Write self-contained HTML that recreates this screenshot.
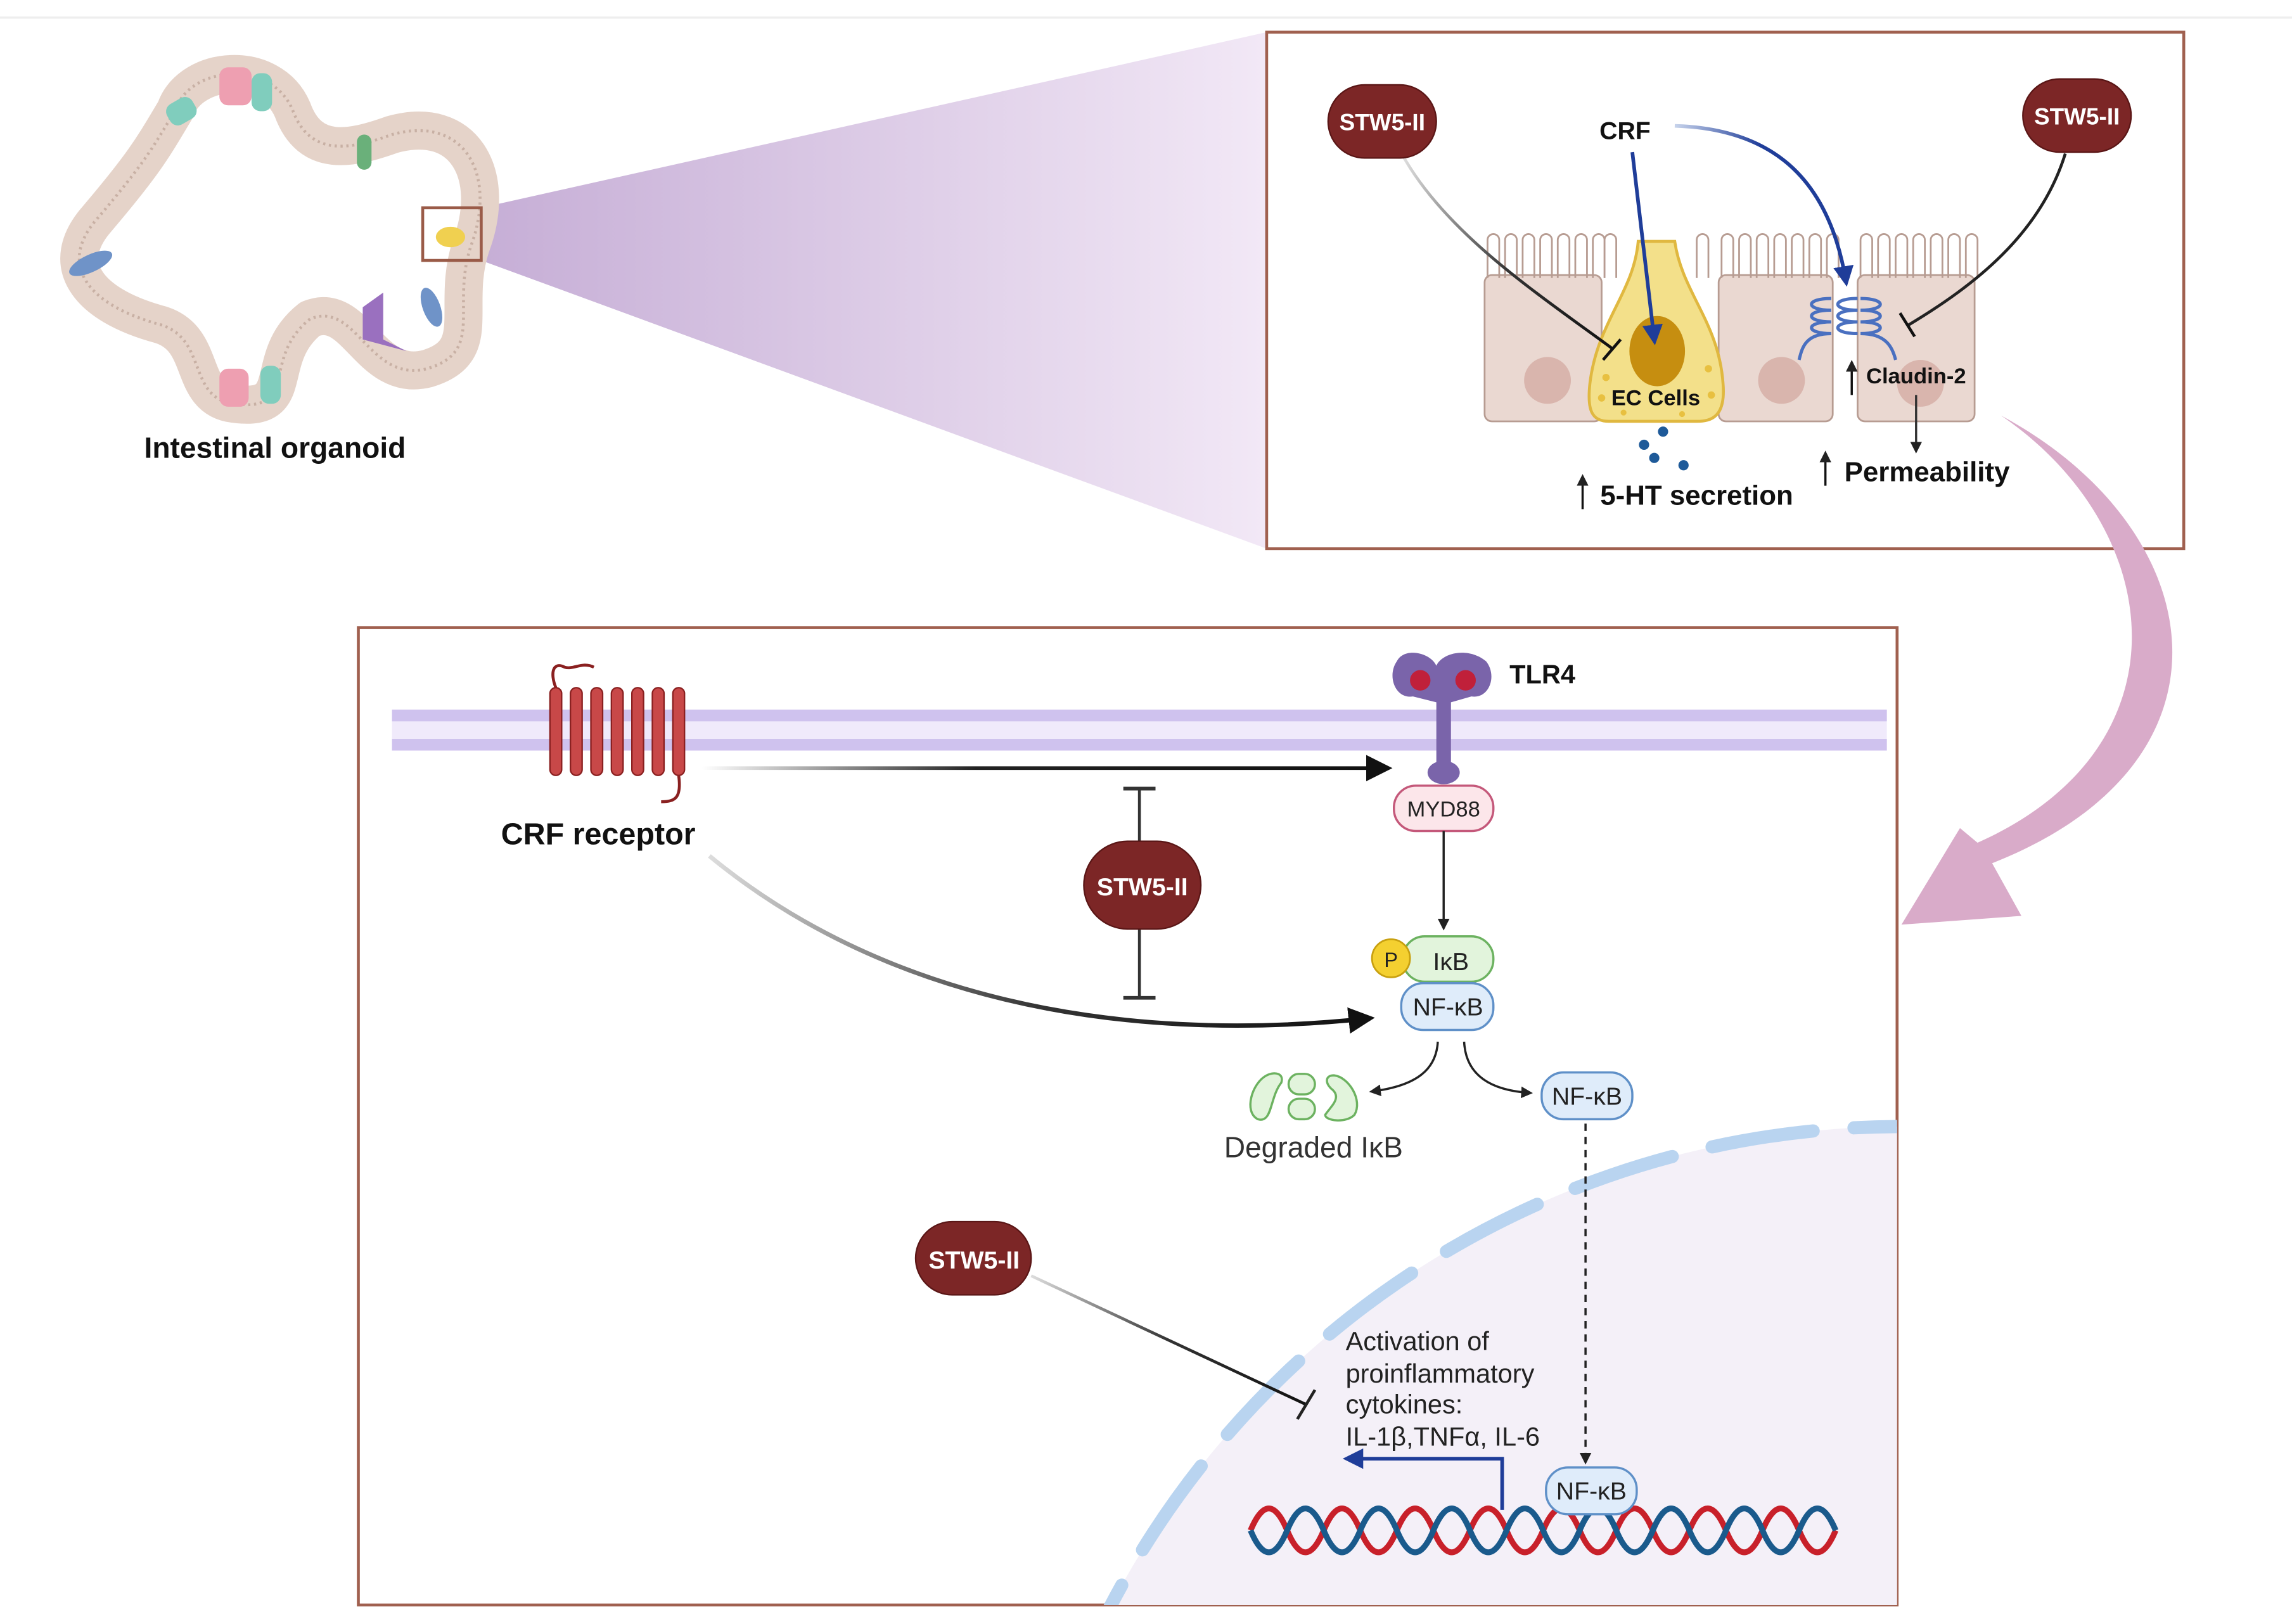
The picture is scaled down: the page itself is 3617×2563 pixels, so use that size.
<!DOCTYPE html>
<html><head><meta charset="utf-8"><style>
html,body{margin:0;padding:0;background:#fff;overflow:hidden;width:3617px;height:2563px}
svg{display:block}
text{font-family:"Liberation Sans",sans-serif}
</style></head><body>
<svg width="3617" height="2563" viewBox="0 0 1567 1110" preserveAspectRatio="none" xmlns="http://www.w3.org/2000/svg">
<defs>
<linearGradient id="wedge" x1="0" x2="1" y1="0" y2="0">
<stop offset="0" stop-color="#c6aed6"/><stop offset="1" stop-color="#f2e8f6"/></linearGradient>
<linearGradient id="fadeL" gradientUnits="userSpaceOnUse" x1="480" x2="948" y1="0" y2="0">
<stop offset="0" stop-color="#fff"/><stop offset="0.4" stop-color="#222"/><stop offset="1" stop-color="#111"/></linearGradient>
<linearGradient id="fadeC" x1="0" x2="1" y1="0" y2="0">
<stop offset="0" stop-color="#ddd"/><stop offset="0.5" stop-color="#333"/><stop offset="1" stop-color="#111"/></linearGradient>
<linearGradient id="fadeB" x1="0" x2="1" y1="0" y2="0">
<stop offset="0" stop-color="#c8d4ec"/><stop offset="0.5" stop-color="#1f3d99"/><stop offset="1" stop-color="#1f3d99"/></linearGradient>
<marker id="ah" markerWidth="8" markerHeight="8" refX="6" refY="4" orient="auto" markerUnits="userSpaceOnUse"><path d="M0,0 L8,4 L0,8 Z" fill="#222"/></marker>
<marker id="ahB" markerWidth="18" markerHeight="18" refX="14" refY="9" orient="auto" markerUnits="userSpaceOnUse"><path d="M0,0 L18,9 L0,18 Z" fill="#111"/></marker>
<marker id="ahBlue" markerWidth="14" markerHeight="14" refX="10" refY="7" orient="auto" markerUnits="userSpaceOnUse"><path d="M0,0 L14,7 L0,14 Z" fill="#1f3d99"/></marker>
<clipPath id="boxclip"><rect x="245" y="429" width="1052" height="668"/></clipPath>
</defs>

<line x1="0" y1="12" x2="1567" y2="12" stroke="#eee" stroke-width="1.5"/>

<polygon points="329,142 866,22 866,375 329,178" fill="url(#wedge)"/>

<!-- organoid -->
<path d="M120,75 C130,45 185,40 200,75 C212,108 240,102 268,92 C318,78 340,120 322,168 C308,210 332,240 292,252 C252,262 244,205 212,218 C178,245 205,282 160,276 C128,272 142,232 110,222 C58,208 40,180 66,150 C100,110 105,100 120,75 Z" fill="none" stroke="#e5d3c9" stroke-width="26" stroke-linejoin="round"/>
<path d="M120,75 C130,45 185,40 200,75 C212,108 240,102 268,92 C318,78 340,120 322,168 C308,210 332,240 292,252 C252,262 244,205 212,218 C178,245 205,282 160,276 C128,272 142,232 110,222 C58,208 40,180 66,150 C100,110 105,100 120,75 Z" fill="none" stroke="#c8b0a4" stroke-width="2" stroke-dasharray="1.5 2.5"/>
<rect x="150" y="46" width="22" height="26" rx="6" fill="#ee9fb1"/>
<rect x="114" y="68" width="20" height="16" rx="6" fill="#80cdbd" transform="rotate(-30 124 76)"/>
<rect x="172" y="50" width="14" height="26" rx="6" fill="#80cdbd"/>
<rect x="244" y="92" width="10" height="24" rx="5" fill="#6ab07a"/>
<rect x="150" y="252" width="20" height="26" rx="6" fill="#ee9fb1"/>
<rect x="178" y="250" width="14" height="26" rx="6" fill="#80cdbd"/>
<ellipse cx="62" cy="180" rx="16" ry="6" fill="#6f93c8" transform="rotate(-25 62 180)"/>
<ellipse cx="295" cy="210" rx="6" ry="14" fill="#6f93c8" transform="rotate(-20 295 210)"/>
<path d="M248,210 L262,200 L262,232 L278,240 L248,232 Z" fill="#9a70bf"/>
<rect x="289" y="142" width="40" height="36" fill="none" stroke="#9a5b48" stroke-width="2"/>
<ellipse cx="308" cy="162" rx="10" ry="7" fill="#f0d050"/>
<text x="188" y="313" font-size="20" font-weight="bold" text-anchor="middle" fill="#111">Intestinal organoid</text>

<!-- top right box -->
<rect x="866" y="22" width="627" height="353" fill="#fff" stroke="#a0604f" stroke-width="2"/>
<g fill="#ead8d1" stroke="#b79c92" stroke-width="1.2">
<rect x="1015" y="188" width="80" height="100" rx="5"/>
<rect x="1175" y="188" width="78" height="100" rx="5"/>
<rect x="1270" y="188" width="80" height="100" rx="5"/>
</g>
<g fill="none" stroke="#b79c92" stroke-width="1.2">
<path d="M1017,190 v-26 a4,4 0 0 1 8,0 v26 m4,0 v-26 a4,4 0 0 1 8,0 v26 m4,0 v-26 a4,4 0 0 1 8,0 v26 m4,0 v-26 a4,4 0 0 1 8,0 v26 m4,0 v-26 a4,4 0 0 1 8,0 v26 m4,0 v-26 a4,4 0 0 1 8,0 v26 m4,0 v-26 a4,4 0 0 1 8,0 v26"/>
<path d="M1177,190 v-26 a4,4 0 0 1 8,0 v26 m4,0 v-26 a4,4 0 0 1 8,0 v26 m4,0 v-26 a4,4 0 0 1 8,0 v26 m4,0 v-26 a4,4 0 0 1 8,0 v26 m4,0 v-26 a4,4 0 0 1 8,0 v26 m4,0 v-26 a4,4 0 0 1 8,0 v26 m4,0 v-26 a4,4 0 0 1 8,0 v26"/>
<path d="M1272,190 v-26 a4,4 0 0 1 8,0 v26 m4,0 v-26 a4,4 0 0 1 8,0 v26 m4,0 v-26 a4,4 0 0 1 8,0 v26 m4,0 v-26 a4,4 0 0 1 8,0 v26 m4,0 v-26 a4,4 0 0 1 8,0 v26 m4,0 v-26 a4,4 0 0 1 8,0 v26 m4,0 v-26 a4,4 0 0 1 8,0 v26"/>
<path d="M1097,190 v-26 a4,4 0 0 1 8,0 v26 m55,0 v-26 a4,4 0 0 1 8,0 v26"/>
</g>
<circle cx="1058" cy="260" r="16" fill="#d9b5ad"/>
<circle cx="1218" cy="260" r="16" fill="#d9b5ad"/>
<circle cx="1313" cy="262" r="16" fill="#d9b5ad"/>
<path d="M1120,165 L1145,165 C1150,200 1175,220 1178,262 C1180,285 1170,288 1160,288 L1100,288 C1088,288 1085,280 1087,262 C1092,220 1117,200 1120,165 Z" fill="#f3e08a" stroke="#e0b840" stroke-width="2"/>
<ellipse cx="1133" cy="240" rx="19" ry="24" fill="#c68e10"/>
<g fill="#e8c040"><circle cx="1098" cy="258" r="2.5"/><circle cx="1168" cy="252" r="2.5"/><circle cx="1170" cy="270" r="2.5"/><circle cx="1095" cy="272" r="2.5"/><circle cx="1110" cy="282" r="2"/><circle cx="1150" cy="283" r="2"/></g>
<text x="1132" y="277" font-size="15" font-weight="bold" text-anchor="middle" fill="#111">EC Cells</text>
<g fill="#1e5a99"><circle cx="1137" cy="295" r="3.5"/><circle cx="1124" cy="304" r="3.5"/><circle cx="1131" cy="313" r="3.5"/><circle cx="1151" cy="318" r="3.5"/></g>
<g fill="none" stroke="#4a70c0" stroke-width="2.2">
<path d="M1252,204 c-18,0 -18,8 0,8 c-18,0 -18,8 0,8 c-18,0 -18,8 0,8 c-18,0 -20,10 -22,18"/>
<path d="M1270,204 c-18,0 -18,8 0,8 c-18,0 -18,8 0,8 c-18,0 -18,8 0,8"/>
<path d="M1272,204 c18,0 18,8 0,8 c18,0 18,8 0,8 c18,0 18,8 0,8 c18,0 22,10 24,18"/>
</g>
<text x="1310" y="262" font-size="15" font-weight="bold" text-anchor="middle" fill="#111">Claudin-2</text>
<line x1="1266" y1="270" x2="1266" y2="248" stroke="#111" stroke-width="1.5" marker-end="url(#ah)"/>
<line x1="1310" y1="270" x2="1310" y2="308" stroke="#333" stroke-width="1.5" marker-end="url(#ah)"/>
<line x1="1082" y1="348" x2="1082" y2="326" stroke="#111" stroke-width="1.5" marker-end="url(#ah)"/>
<text x="1094" y="345" font-size="19" font-weight="bold" fill="#111">5-HT secretion</text>
<line x1="1248" y1="332" x2="1248" y2="310" stroke="#111" stroke-width="1.5" marker-end="url(#ah)"/>
<text x="1261" y="329" font-size="19" font-weight="bold" fill="#111">Permeability</text>
<path d="M960,108 C990,160 1050,200 1102,238" fill="none" stroke="url(#fadeC)" stroke-width="2"/>
<line x1="1096" y1="246" x2="1108" y2="232" stroke="#111" stroke-width="2"/>
<path d="M1412,105 C1395,160 1350,195 1305,222" fill="none" stroke="#222" stroke-width="2"/>
<line x1="1299" y1="214" x2="1309" y2="230" stroke="#111" stroke-width="2"/>
<line x1="1116" y1="104" x2="1131" y2="232" stroke="#1f3d99" stroke-width="2.5" marker-end="url(#ahBlue)"/>
<path d="M1145,86 C1210,88 1250,120 1262,192" fill="none" stroke="url(#fadeB)" stroke-width="2.5" marker-end="url(#ahBlue)"/>
<text x="1111" y="95" font-size="17" font-weight="bold" text-anchor="middle" fill="#111">CRF</text>
<rect x="908" y="58" width="74" height="50" rx="25" fill="#7c2626" stroke="#5a1616"/>
<text x="945" y="89" font-size="16" font-weight="bold" text-anchor="middle" fill="#fff">STW5-II</text>
<rect x="1383" y="54" width="74" height="50" rx="25" fill="#7c2626" stroke="#5a1616"/>
<text x="1420" y="85" font-size="16" font-weight="bold" text-anchor="middle" fill="#fff">STW5-II</text>

<path d="M1368,284 C1510,360 1540,520 1362,590 L1382,626 L1300,632 L1340,566 L1352,576 C1500,510 1480,360 1368,284 Z" fill="#d9abc9"/>

<!-- bottom box -->
<rect x="245" y="429" width="1052" height="668" fill="#fff" stroke="#a0604f" stroke-width="2"/>
<g clip-path="url(#boxclip)">
<circle cx="1300" cy="1380" r="610" fill="#f4f0f8"/>
<circle cx="1300" cy="1380" r="610" fill="none" stroke="#b9d4f0" stroke-width="9" stroke-dasharray="70 28" stroke-linecap="round"/>
</g>
<rect x="268" y="485" width="1022" height="28" fill="#f0eafb"/>
<rect x="268" y="485" width="1022" height="8" fill="#cfc2ee"/>
<rect x="268" y="505" width="1022" height="8" fill="#cfc2ee"/>
<g fill="#c84848" stroke="#8a2020" stroke-width="1">
<rect x="376" y="470" width="8" height="60" rx="4"/><rect x="390" y="470" width="8" height="60" rx="4"/><rect x="404" y="470" width="8" height="60" rx="4"/><rect x="418" y="470" width="8" height="60" rx="4"/><rect x="432" y="470" width="8" height="60" rx="4"/><rect x="446" y="470" width="8" height="60" rx="4"/><rect x="460" y="470" width="8" height="60" rx="4"/>
</g>
<path d="M380,470 C376,460 378,452 386,456 C392,458 398,452 406,456 M464,530 C466,545 462,548 452,548" fill="none" stroke="#8a2020" stroke-width="2"/>
<text x="409" y="577" font-size="21" font-weight="bold" text-anchor="middle" fill="#111">CRF receptor</text>
<path d="M955,452 C960,442 978,446 982,455 C986,446 1004,442 1016,452 C1024,462 1018,478 1006,476 L992,480 L992,528 L982,528 L982,480 L966,476 C954,478 948,462 955,452 Z" fill="#7a64aa"/>
<circle cx="971" cy="465" r="7" fill="#c0203a"/><circle cx="1002" cy="465" r="7" fill="#c0203a"/>
<ellipse cx="987" cy="528" rx="11" ry="8" fill="#7a64aa"/>
<text x="1032" y="467" font-size="18" font-weight="bold" fill="#111">TLR4</text>
<line x1="480" y1="525" x2="948" y2="525" stroke="url(#fadeL)" stroke-width="2.5" marker-end="url(#ahB)"/>
<path d="M485,585 C600,680 760,715 936,696" fill="none" stroke="url(#fadeC)" stroke-width="3" marker-end="url(#ahB)"/>
<line x1="779" y1="538" x2="779" y2="682" stroke="#333" stroke-width="2"/>
<line x1="768" y1="539" x2="790" y2="539" stroke="#333" stroke-width="2.5"/>
<line x1="768" y1="682" x2="790" y2="682" stroke="#333" stroke-width="2.5"/>
<rect x="741" y="575" width="80" height="60" rx="30" fill="#7c2626" stroke="#5a1616"/>
<text x="781" y="612" font-size="17" font-weight="bold" text-anchor="middle" fill="#fff">STW5-II</text>
<rect x="953" y="537" width="68" height="31" rx="15" fill="#fce6ea" stroke="#c4587a" stroke-width="1.5"/>
<text x="987" y="558" font-size="15" text-anchor="middle" fill="#222">MYD88</text>
<line x1="987" y1="568" x2="987" y2="634" stroke="#222" stroke-width="1.5" marker-end="url(#ah)"/>
<rect x="959" y="640" width="62" height="31" rx="15" fill="#e2f4dc" stroke="#6cb260" stroke-width="1.5"/>
<circle cx="951" cy="655" r="13" fill="#f4d030" stroke="#c8a010" stroke-width="1.2"/>
<text x="951" y="661" font-size="14" text-anchor="middle" fill="#222">P</text>
<text x="992" y="663" font-size="17" text-anchor="middle" fill="#222">IκB</text>
<rect x="958" y="672" width="63" height="32" rx="15" fill="#dfecfa" stroke="#5f90c8" stroke-width="1.5"/>
<text x="990" y="694" font-size="17" text-anchor="middle" fill="#222">NF-κB</text>
<path d="M983,712 C982,730 970,742 938,746" fill="none" stroke="#222" stroke-width="1.5" marker-end="url(#ah)"/>
<path d="M1001,712 C1002,732 1015,745 1046,747" fill="none" stroke="#222" stroke-width="1.5" marker-end="url(#ah)"/>
<g fill="#e2f4dc" stroke="#6cb260" stroke-width="1.5">
<path d="M866,735 C856,740 850,760 860,765 C870,768 868,750 876,740 C878,734 872,732 866,735 Z"/>
<rect x="881" y="734" width="18" height="14" rx="7"/><rect x="881" y="751" width="18" height="14" rx="7"/>
<path d="M912,735 C922,736 932,752 926,762 C920,768 906,766 906,762 C910,756 918,750 910,744 C906,740 906,735 912,735 Z"/>
</g>
<text x="898" y="791" font-size="20" text-anchor="middle" fill="#333">Degraded IκB</text>
<rect x="1054" y="733" width="62" height="32" rx="15" fill="#dfecfa" stroke="#5f90c8" stroke-width="1.5"/>
<text x="1085" y="755" font-size="17" text-anchor="middle" fill="#222">NF-κB</text>
<line x1="1084" y1="768" x2="1084" y2="999" stroke="#222" stroke-width="1.5" stroke-dasharray="5 4" marker-end="url(#ah)"/>
<path d="M855,1046 q12.5,-30 25,0 t25,0 t25,0 t25,0 t25,0 t25,0 t25,0 t25,0 t25,0 t25,0 t25,0 t25,0 t25,0 t25,0 t25,0 t25,0" fill="none" stroke="#c8202a" stroke-width="4"/>
<path d="M855,1046 q12.5,30 25,0 t25,0 t25,0 t25,0 t25,0 t25,0 t25,0 t25,0 t25,0 t25,0 t25,0 t25,0 t25,0 t25,0 t25,0 t25,0" fill="none" stroke="#1a5a8c" stroke-width="4"/>
<rect x="1057" y="1003" width="62" height="32" rx="15" fill="#dfecfa" stroke="#5f90c8" stroke-width="1.5"/>
<text x="1088" y="1025" font-size="17" text-anchor="middle" fill="#222">NF-κB</text>
<path d="M1027,1032 L1027,997 L922,997" fill="none" stroke="#1f3d99" stroke-width="2.5" marker-end="url(#ahBlue)"/>
<g font-size="18" fill="#222">
<text x="920" y="923">Activation of</text>
<text x="920" y="945">proinflammatory</text>
<text x="920" y="966">cytokines:</text>
<text x="920" y="988">IL-1β,TNFα, IL-6</text>
</g>
<line x1="705" y1="872" x2="893" y2="960" stroke="url(#fadeC)" stroke-width="2"/>
<line x1="887" y1="970" x2="899" y2="950" stroke="#222" stroke-width="2"/>
<rect x="626" y="835" width="79" height="50" rx="25" fill="#7c2626" stroke="#5a1616"/>
<text x="666" y="867" font-size="17" font-weight="bold" text-anchor="middle" fill="#fff">STW5-II</text>
</svg>
</body></html>
